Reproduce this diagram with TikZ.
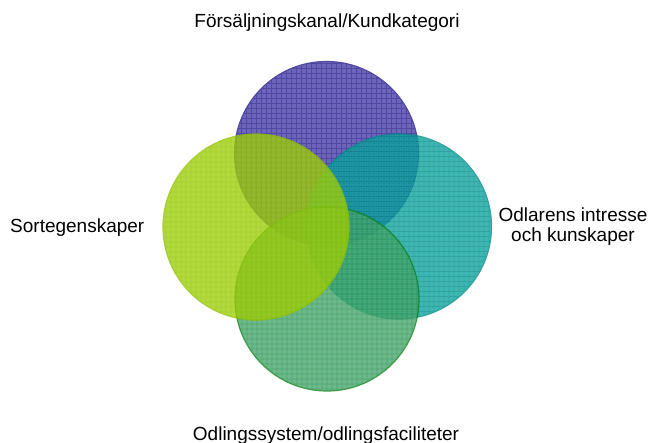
\documentclass[tikz,border=0pt]{standalone}
\usepackage{fontspec}
\setmainfont{Liberation Sans}
\definecolor{pfill}{RGB}{72,63,168}
\definecolor{pline}{RGB}{35,28,140}
\definecolor{tfill}{RGB}{14,165,159}
\definecolor{tline}{RGB}{0,140,137}
\definecolor{gfill}{RGB}{73,167,111}
\definecolor{gline}{RGB}{35,140,75}
\definecolor{gedge}{RGB}{10,130,25}
\definecolor{yfill}{RGB}{160,207,10}
\definecolor{yline}{RGB}{145,195,0}
\newcommand\vennball[6]{%
  \begin{scope}[transparency group, opacity=0.8]
    \begin{scope}
      \clip (#1,#2) circle[radius=#3];
      \fill[#4] (#1,#2) circle[radius=#3];
      \foreach \k in {-19,...,19} {
        \draw[#5, line width=0.9pt] ({#1+\k*5},{#2-#3}) -- ++(0,{2*#3});
        \draw[#5, line width=0.9pt] ({#1-#3},{#2+\k*5}) -- ++({2*#3},0);
      }
    \end{scope}
    \draw[#6, line width=1.2pt] (#1,#2) circle[radius=#3];
  \end{scope}
}
\tikzset{lbl/.style={inner sep=0pt, font=\fontsize{19}{20}\selectfont, text=black}}
\begin{document}
\begin{tikzpicture}[x=1pt,y=-1pt]
\useasboundingbox (0,0) rectangle (650,443);
\vennball{326.5}{153.5}{92}{pfill}{pline}{pline}
\vennball{399}{226.5}{92.5}{tfill}{tline}{tline}
\vennball{327}{299}{92}{gfill}{gline}{gedge}
\vennball{256}{227}{93}{yfill}{yline}{yline}
\node[lbl, anchor=base] (top) at (327,28) {Försäljningskanal/Kundkategori};
\node[lbl, anchor=base] (bottom) at (326,440) {Odlingssystem/odlingsfaciliteter};
\node[lbl, anchor=base west] (left) at (10,233) {Sortegenskaper};
\node[lbl, align=center] (right) at (573,227) {Odlarens intresse\\och kunskaper};
\end{tikzpicture}
\end{document}
